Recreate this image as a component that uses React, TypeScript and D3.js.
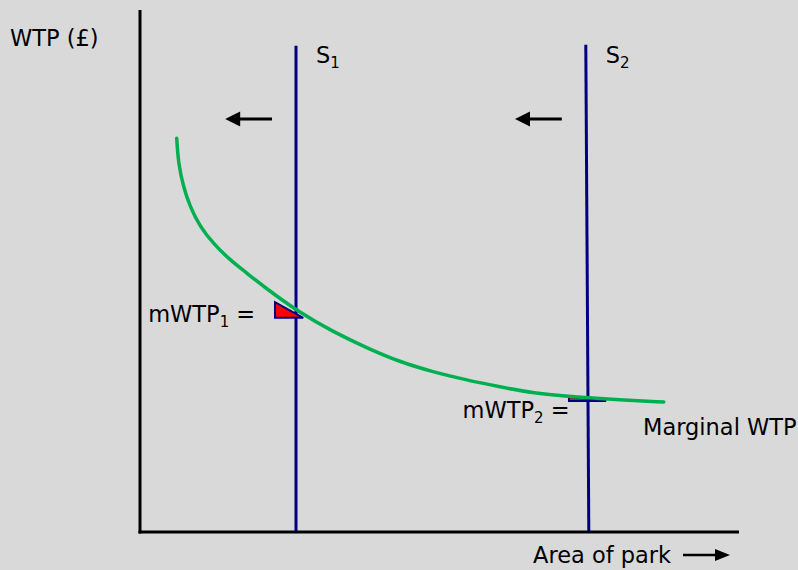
import React from "react";
import * as d3 from "d3";

// marginal WTP curve (area, £)
const curveX = [6.12, 6.38, 7.22, 8.33, 10.0, 12.2, 15.0, 17.8, 20.6, 26.7, 32.2, 37.8, 43.3, 48.8, 54.5, 60, 65.5, 72.2, 80, 87.3];
const curveY = [75.7, 71.0, 66.4, 62.6, 58.7, 55.5, 52.3, 49.8, 47.2, 42.1, 38.5, 35.4, 32.7, 30.8, 29.2, 27.9, 26.7, 26.0, 25.4, 25.0];

// supply lines: [x at bottom, x at top, top value]
const supplyNames = ["1", "2"];
const supplyBottomX = [26.0, 74.8];
const supplyTopX = [26.0, 74.3];
const supplyTop = [93.5, 93.7];

// small mWTP triangles: x0, x1, yTop, yBottom
const triX0 = [22.5, 71.5];
const triX1 = [27.2, 77.7];
const triTop = [44.2, 26.0];
const triBottom = [41.2, 25.2];
const triLabelX = [19.2, 71.6];
const triLabelY = [40.4, 21.9];

// shift arrows
const arrowFrom = [22.0, 70.3];
const arrowTo = [14.2, 62.5];
const arrowY = 79.4;

const W = 798;
const H = 570;
const FONT = "'DejaVu Sans', sans-serif";
const FS = 22.5;
const SUB = 15;
const NAVY = "#000080";
const GREEN = "#00b050";

export default function App() {
  const x = d3.scaleLinear().domain([0, 100]).range([140, 740]);
  const y = d3.scaleLinear().domain([0, 100]).range([532, 12]);

  const pts: [number, number][] = curveX.map((v, i) => [x(v), y(curveY[i])]);
  const curvePath = d3.line().curve(d3.curveBasis)(pts) || "";

  const arrow = (x1: number, x2: number, yy: number, key: string, sw = 3, headLen = 15, headW = 7.5) => {
    const dir = x2 > x1 ? 1 : -1;
    return (
      <g key={key}>
        <line x1={x1} y1={yy} x2={x2 - dir * headLen + dir} y2={yy} stroke="#000" strokeWidth={sw} />
        <path
          d={`M${x2},${yy} L${x2 - dir * headLen},${yy - headW} L${x2 - dir * headLen},${yy + headW} Z`}
          fill="#000"
        />
      </g>
    );
  };

  return (
    <svg width={W} height={H} style={{ position: "absolute", left: 0, top: 0, background: "#d9d9d9" }}>
      <rect width={W} height={H} fill="#d9d9d9" />

      {/* axes */}
      <line x1={x(0)} y1={10} x2={x(0)} y2={y(0) + 1.5} stroke="#000" strokeWidth={3} />
      <line x1={x(0) - 1.5} y1={y(0)} x2={739} y2={y(0)} stroke="#000" strokeWidth={3} />
      <text x={10} y={46} fontFamily={FONT} fontSize={FS} fill="#000">WTP (£)</text>
      <text x={533} y={563} fontFamily={FONT} fontSize={FS} fill="#000">Area of park</text>
      {arrow(683, 730, 555, "ax", 2.5, 15, 6)}

      {/* supply lines */}
      {supplyNames.map((n, i) => (
        <g key={"s" + n}>
          <line
            x1={x(supplyTopX[i])}
            y1={y(supplyTop[i])}
            x2={x(supplyBottomX[i])}
            y2={y(0) - 1}
            stroke={NAVY}
            strokeWidth={3}
          />
          <text x={x(supplyTopX[i]) + 20} y={63} fontFamily={FONT} fontSize={FS} fill="#000">
            S<tspan fontSize={SUB} dy={5}>{n}</tspan>
          </text>
        </g>
      ))}

      {/* triangles */}
      {triX0.map((v, i) => (
        <path
          key={"t" + i}
          d={`M${x(v)},${y(triTop[i])} L${x(v)},${y(triBottom[i])} L${x(triX1[i])},${y(triBottom[i])} Z`}
          fill="#ff0000"
          stroke={NAVY}
          strokeWidth={2}
          strokeLinejoin="miter"
        />
      ))}

      {/* demand curve */}
      <path d={curvePath} fill="none" stroke={GREEN} strokeWidth={3.5} strokeLinecap="round" />

      {/* labels */}
      {triLabelX.map((v, i) => (
        <text key={"l" + i} x={x(v)} y={y(triLabelY[i])} textAnchor="end" fontFamily={FONT} fontSize={FS} fill="#000">
          mWTP<tspan fontSize={SUB} dy={5}>{i + 1}</tspan>
          <tspan dy={-5}> =</tspan>
        </text>
      ))}
      <text x={643} y={435} fontFamily={FONT} fontSize={FS} fill="#000">Marginal WTP</text>

      {arrowFrom.map((v, i) => arrow(x(v), x(arrowTo[i]), y(arrowY), "a" + i))}
    </svg>
  );
}
